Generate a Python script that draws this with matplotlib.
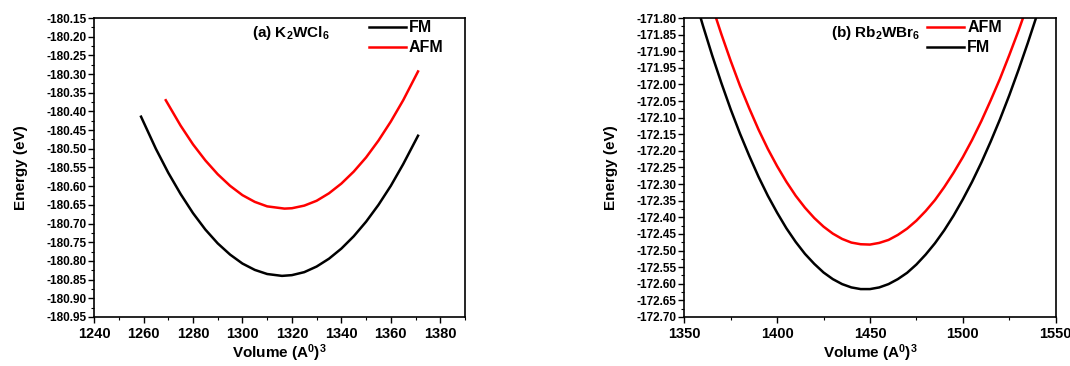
import matplotlib

matplotlib.use("Agg")
import matplotlib.pyplot as plt
from matplotlib.ticker import MultipleLocator, FormatStrFormatter

plt.rcParams["font.family"] = ["Liberation Sans", "DejaVu Sans"]
plt.rcParams["font.weight"] = "bold"
plt.rcParams["axes.unicode_minus"] = False
plt.rcParams["mathtext.fontset"] = "custom"
plt.rcParams["mathtext.rm"] = "Liberation Sans:bold"
plt.rcParams["mathtext.it"] = "Liberation Sans:bold"
plt.rcParams["mathtext.bf"] = "Liberation Sans:bold"

AFM_COLOR = "#ff0000"
FM_COLOR = "black"

# (a) K2WCl6
kVolFm = [1259, 1265, 1270, 1275, 1280, 1285, 1290, 1295, 1300, 1305, 1310,
          1316, 1320, 1325, 1330, 1335, 1340, 1345, 1350, 1355, 1360, 1365, 1371]
kEnFm = [-180.414, -180.500, -180.564, -180.621, -180.672, -180.716, -180.753,
         -180.783, -180.807, -180.824, -180.835, -180.840, -180.838, -180.830,
         -180.815, -180.794, -180.767, -180.734, -180.695, -180.650, -180.599,
         -180.541, -180.465]
kVolAfm = [1269, 1275, 1280, 1285, 1290, 1295, 1300, 1305, 1310, 1317, 1320,
           1325, 1330, 1335, 1340, 1345, 1350, 1355, 1360, 1365, 1371]
kEnAfm = [-180.370, -180.438, -180.488, -180.531, -180.568, -180.599, -180.624,
          -180.642, -180.654, -180.660, -180.659, -180.652, -180.639, -180.619,
          -180.593, -180.561, -180.523, -180.478, -180.427, -180.370, -180.293]

# (b) Rb2WBr6
rVolFm = list(range(1355, 1550, 5))
rEnFm = [-171.727, -171.822, -171.912, -171.996, -172.075, -172.148, -172.215,
         -172.278, -172.335, -172.386, -172.433, -172.474, -172.510, -172.540,
         -172.566, -172.586, -172.601, -172.611, -172.616, -172.616, -172.611,
         -172.601, -172.586, -172.567, -172.542, -172.512, -172.478, -172.439,
         -172.395, -172.346, -172.293, -172.235, -172.172, -172.105, -172.033,
         -171.956, -171.875, -171.790, -171.700]
rVolAfm = list(range(1360, 1545, 5))
rEnAfm = [-171.673, -171.764, -171.849, -171.929, -172.004, -172.072, -172.136,
          -172.194, -172.246, -172.293, -172.335, -172.371, -172.402, -172.428,
          -172.449, -172.465, -172.476, -172.481, -172.482, -172.477, -172.468,
          -172.453, -172.434, -172.410, -172.381, -172.348, -172.309, -172.266,
          -172.219, -172.167, -172.110, -172.048, -171.983, -171.912, -171.838,
          -171.759, -171.675]


# Shared axis styling for both panels.
def _styleAx(ax, xlim, ylim, xMajor, yMajor):
    ax.set_xlim(*xlim)
    ax.set_ylim(*ylim)
    ax.xaxis.set_major_locator(MultipleLocator(xMajor))
    ax.xaxis.set_minor_locator(MultipleLocator(xMajor / 2))
    ax.yaxis.set_major_locator(MultipleLocator(yMajor))
    ax.yaxis.set_minor_locator(MultipleLocator(yMajor / 2))
    ax.yaxis.set_major_formatter(FormatStrFormatter("%.2f"))
    ax.tick_params(which="both", direction="out", top=False, right=False)
    ax.tick_params(which="major", length=4, width=1.0)
    ax.tick_params(which="minor", length=2.5, width=0.8)
    ax.tick_params(axis="x", labelsize=10.5, pad=3)
    ax.tick_params(axis="y", labelsize=8.5, pad=1.5)
    for spine in ax.spines.values():
        spine.set_linewidth(1.2)
    ax.set_xlabel("Volume (A$^{0}$)$^{3}$", fontsize=11, fontweight="bold", labelpad=1)
    ax.set_ylabel("Energy (eV)", fontsize=11, fontweight="bold", labelpad=13)


fig = plt.figure(figsize=(10.7, 3.66), dpi=100)
axA = fig.add_axes([0.0879, 0.1339, 0.3467, 0.8169])
axB = fig.add_axes([0.6395, 0.1339, 0.3471, 0.8169])

_styleAx(axA, (1240, 1390), (-180.95, -180.15), 20, 0.05)
axA.plot(kVolFm, kEnFm, color=FM_COLOR, lw=1.8, label="FM")
axA.plot(kVolAfm, kEnAfm, color=AFM_COLOR, lw=1.8, label="AFM")
axA.text(0.5315, 0.95, "(a) K$_{2}$WCl$_{6}$", transform=axA.transAxes,
         ha="center", va="center", fontsize=11, fontweight="bold")
legA = axA.legend(loc="upper left", bbox_to_anchor=(0.735, 1.0), frameon=False,
                  borderpad=0, borderaxespad=0.15, handlelength=2.3,
                  handletextpad=0.2, labelspacing=0.3,
                  prop={"weight": "bold", "size": 11.5})

_styleAx(axB, (1350, 1550), (-172.70, -171.80), 50, 0.05)
axB.plot(rVolAfm, rEnAfm, color=AFM_COLOR, lw=1.8, label="AFM")
axB.plot(rVolFm, rEnFm, color=FM_COLOR, lw=1.8, label="FM")
axB.xaxis.set_minor_locator(MultipleLocator(25))
axB.text(0.516, 0.95, "(b) Rb$_{2}$WBr$_{6}$", transform=axB.transAxes,
         ha="center", va="center", fontsize=11, fontweight="bold")
legB = axB.legend(loc="upper left", bbox_to_anchor=(0.648, 1.0), frameon=False,
                  borderpad=0, borderaxespad=0.15, handlelength=2.3,
                  handletextpad=0.2, labelspacing=0.3,
                  prop={"weight": "bold", "size": 11.5})

fig.savefig("out.png", dpi=100, facecolor="white")
plt.close(fig)
